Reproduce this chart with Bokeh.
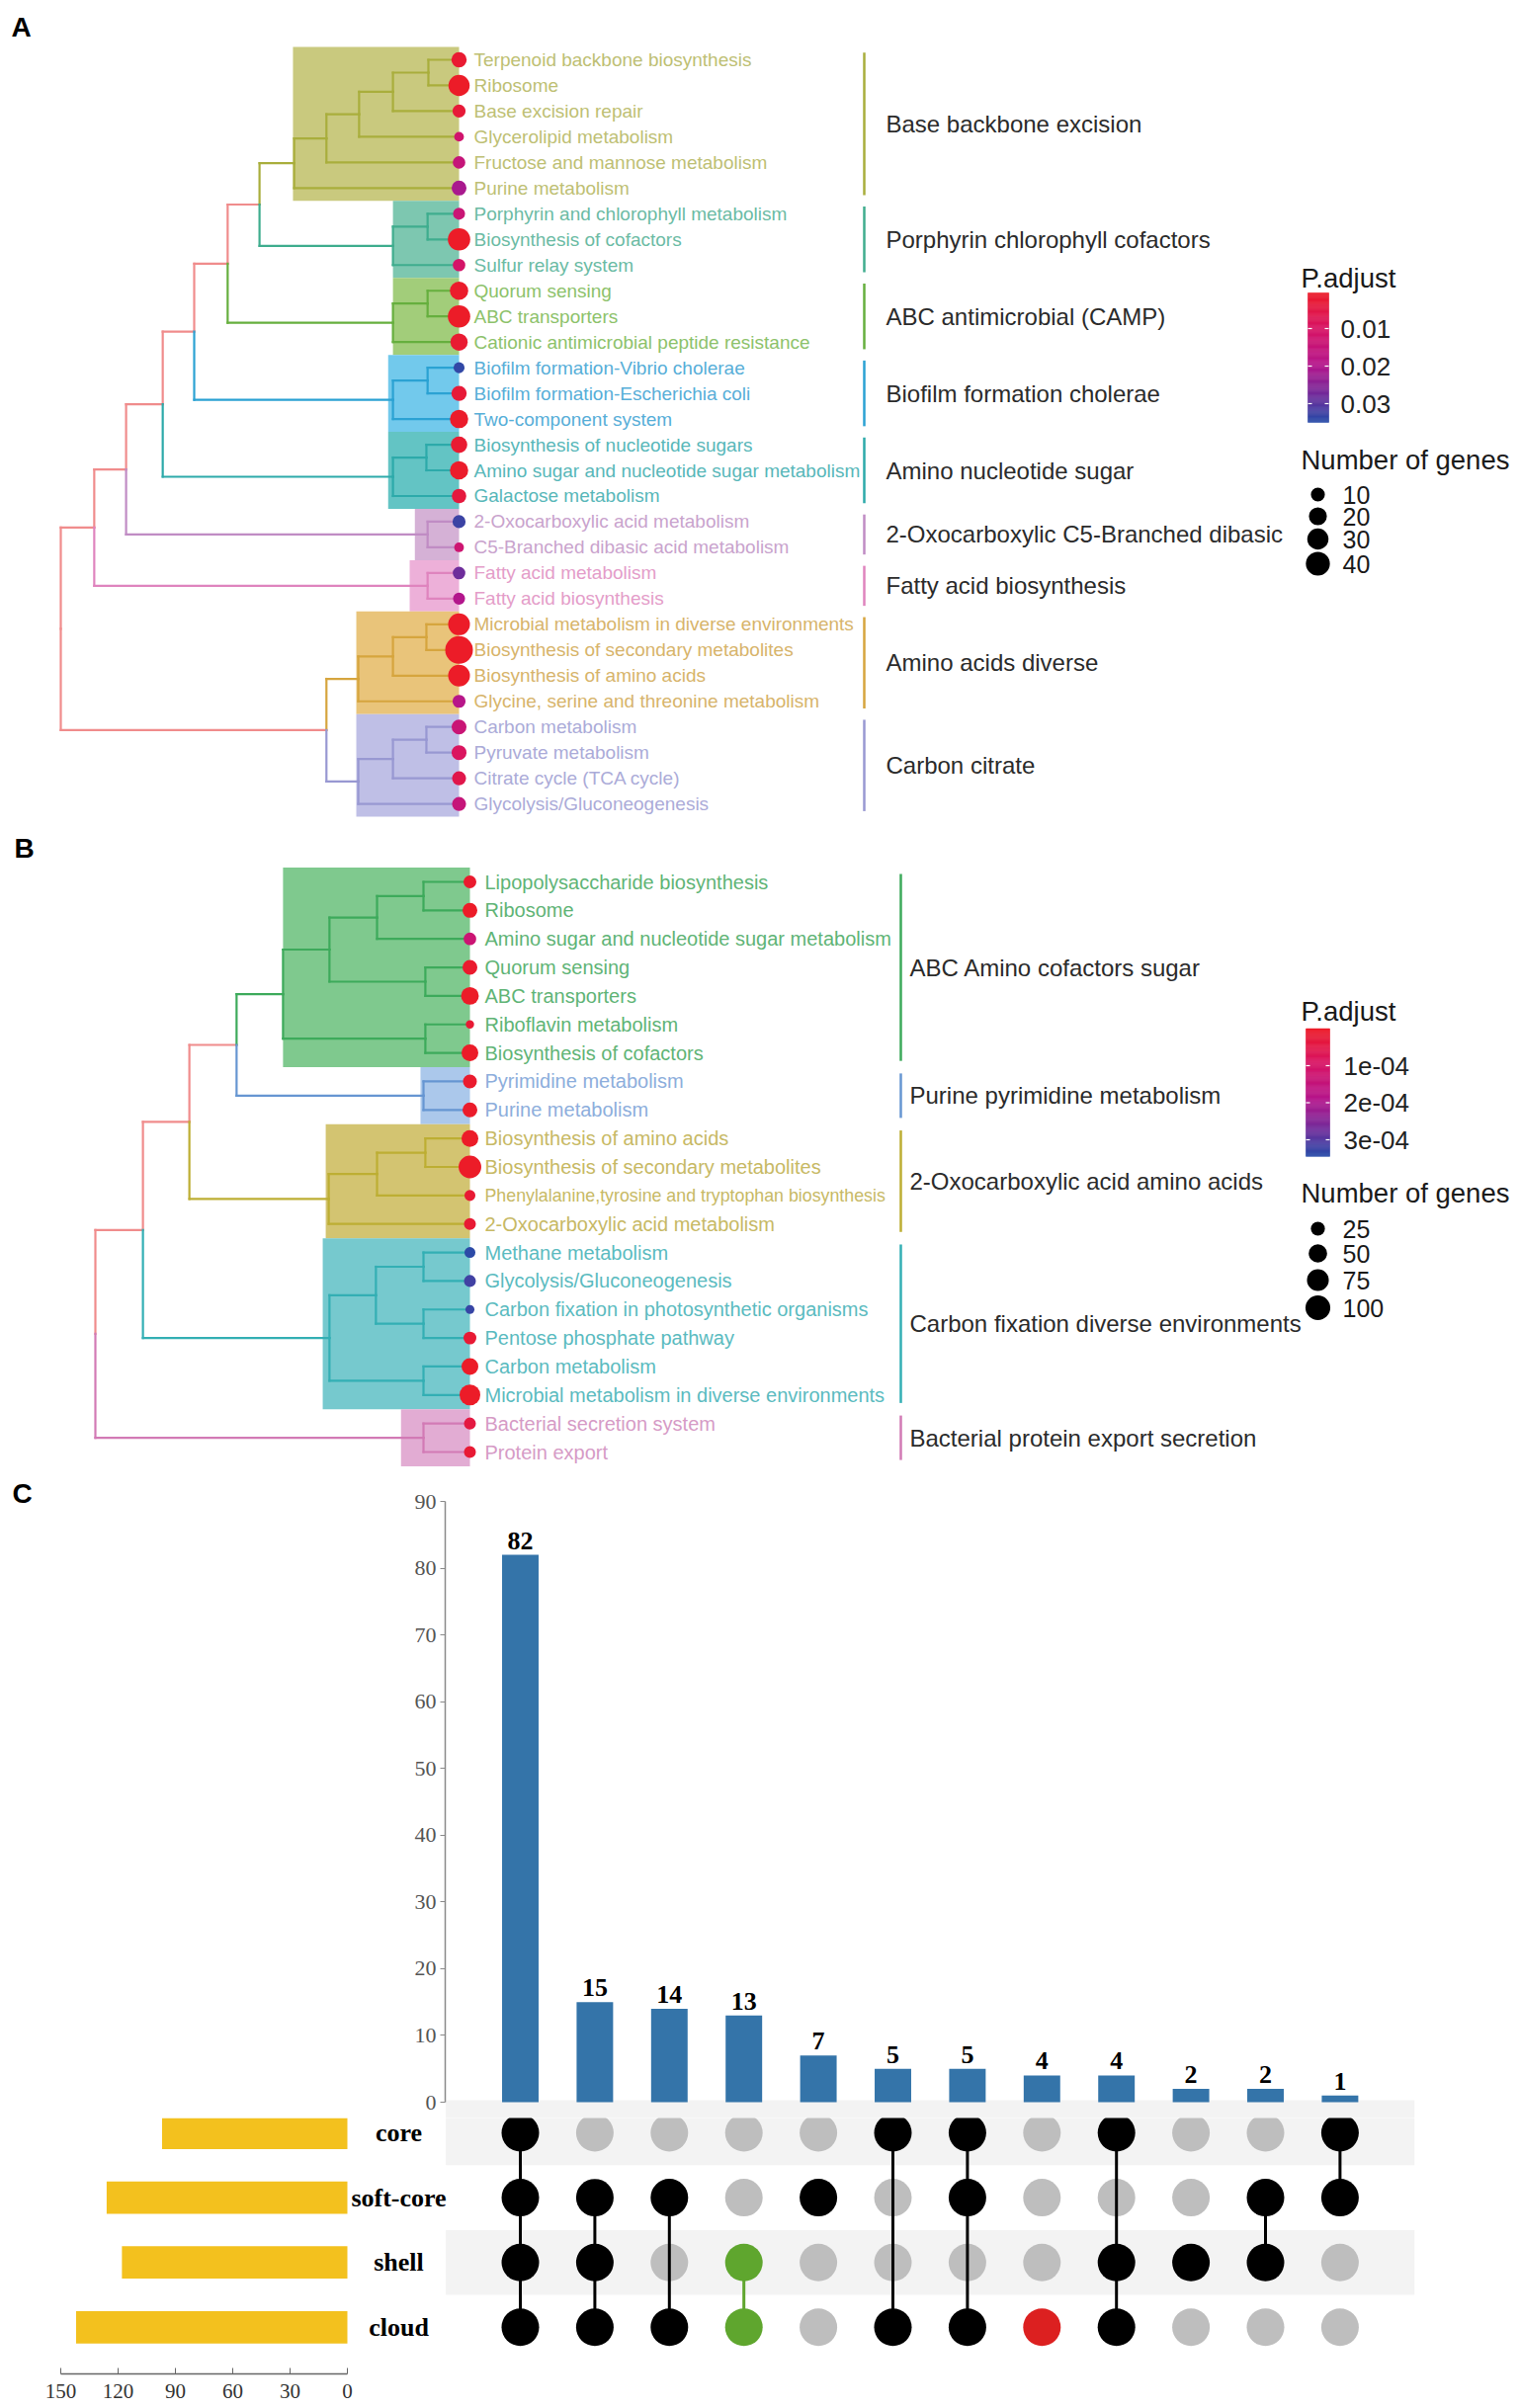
import numpy as np
from bokeh.plotting import figure
from bokeh.models import Range1d, LinearAxis, FixedTicker, ColumnDataSource
from bokeh.layouts import column, row
from bokeh.embed import file_html
from bokeh.resources import INLINE
from bokeh.core.properties import value
from bokeh.transform import linear_cmap

SANS = "Liberation Sans"
SERIF = "Liberation Serif"

# ======================= DATA: panel A =======================
A_terms = ["Terpenoid backbone biosynthesis", "Ribosome", "Base excision repair", "Glycerolipid metabolism",
           "Fructose and mannose metabolism", "Purine metabolism", "Porphyrin and chlorophyll metabolism",
           "Biosynthesis of cofactors", "Sulfur relay system", "Quorum sensing", "ABC transporters",
           "Cationic antimicrobial peptide resistance", "Biofilm formation-Vibrio cholerae",
           "Biofilm formation-Escherichia coli", "Two-component system", "Biosynthesis of nucleotide sugars",
           "Amino sugar and nucleotide sugar metabolism", "Galactose metabolism",
           "2-Oxocarboxylic acid metabolism", "C5-Branched dibasic acid metabolism", "Fatty acid metabolism",
           "Fatty acid biosynthesis", "Microbial metabolism in diverse environments",
           "Biosynthesis of secondary metabolites", "Biosynthesis of amino acids",
           "Glycine, serine and threonine metabolism", "Carbon metabolism", "Pyruvate metabolism",
           "Citrate cycle (TCA cycle)", "Glycolysis/Gluconeogenesis"]
A_padj = [0.002, 0.0005, 0.003, 0.012, 0.015, 0.021, 0.014, 0.0005, 0.011, 0.001, 0.0005, 0.002,
          0.034, 0.003, 0.001, 0.002, 0.001, 0.004, 0.033, 0.013, 0.028, 0.020, 0.0005, 0.0005,
          0.0005, 0.019, 0.014, 0.009, 0.006, 0.015]
A_count = [13, 30, 8, 2, 7, 12, 6, 34, 7, 21, 34, 18, 4, 13, 21, 16, 21, 11, 8, 2, 7, 6, 32, 55,
           32, 8, 12, 12, 10, 10]
A_cluster_names = ["Base backbone excision", "Porphyrin chlorophyll cofactors", "ABC antimicrobial (CAMP)",
                   "Biofilm formation cholerae", "Amino nucleotide sugar",
                   "2-Oxocarboxylic C5-Branched dibasic", "Fatty acid biosynthesis", "Amino acids diverse",
                   "Carbon citrate"]
A_cluster_sizes = [6, 3, 3, 3, 3, 2, 2, 4, 4]
# dendrogram: (height, left, right); ints are leaf indices
_a1 = (0.414, (0.333, (0.251, (0.166, (0.077, 0, 1), 2), 3), 4), 5)
_a2 = (0.166, (0.079, 6, 7), 8)
_a3 = (0.166, (0.079, 9, 10), 11)
_a4 = (0.166, (0.079, 12, 13), 14)
_a5 = (0.166, (0.082, 15, 16), 17)
_a6 = (0.079, 18, 19)
_a7 = (0.079, 20, 21)
_a8 = (0.253, (0.166, (0.082, 22, 23), 24), 25)
_a9 = (0.253, (0.166, (0.082, 26, 27), 28), 29)
A_tree = (1.0, (0.916, (0.836, (0.744, (0.665, (0.581, (0.501, _a1, _a2), _a3), _a4), _a5), _a6), _a7),
          (0.333, _a8, _a9))
A_padj_ticks = [0.01, 0.02, 0.03]
A_padj_tick_labels = ["0.01", "0.02", "0.03"]
A_padj_limits = [0.0005, 0.035]
A_size_breaks = [10, 20, 30, 40]

# ======================= DATA: panel B =======================
B_terms = ["Lipopolysaccharide biosynthesis", "Ribosome", "Amino sugar and nucleotide sugar metabolism",
           "Quorum sensing", "ABC transporters", "Riboflavin metabolism", "Biosynthesis of cofactors",
           "Pyrimidine metabolism", "Purine metabolism", "Biosynthesis of amino acids",
           "Biosynthesis of secondary metabolites", "Phenylalanine,tyrosine and tryptophan biosynthesis",
           "2-Oxocarboxylic acid metabolism", "Methane metabolism", "Glycolysis/Gluconeogenesis",
           "Carbon fixation in photosynthetic organisms", "Pentose phosphate pathway", "Carbon metabolism",
           "Microbial metabolism in diverse environments", "Bacterial secretion system", "Protein export"]
B_padj = [1e-5, 1e-6, 1.3e-4, 1e-5, 1e-6, 2e-5, 1e-6, 1e-5, 5e-6, 1e-6, 1e-6, 2e-5, 2e-5,
          3.4e-4, 3.2e-4, 3.3e-4, 2e-5, 1e-6, 1e-6, 4e-5, 2e-5]
B_count = [19, 29, 18, 29, 46, 2, 40, 24, 29, 40, 82, 11, 15, 11, 15, 4, 19, 40, 67, 15, 15]
B_cluster_names = ["ABC Amino cofactors sugar", "Purine pyrimidine metabolism",
                   "2-Oxocarboxylic acid amino acids", "Carbon fixation diverse environments",
                   "Bacterial protein export secretion"]
B_cluster_sizes = [7, 2, 4, 6, 2]
_b1 = (0.499, (0.375, (0.248, (0.124, 0, 1), 2), (0.119, 3, 4)), (0.119, 5, 6))
_b2 = (0.124, 7, 8)
_b3 = (0.377, (0.248, (0.119, 9, 10), 11), 12)
_b4 = (0.375, (0.251, (0.124, 13, 14), (0.124, 15, 16)), (0.124, 17, 18))
_b5 = (0.124, 19, 20)
B_tree = (1.0, (0.873, (0.749, (0.623, _b1, _b2), _b3), _b4), _b5)
B_padj_ticks = [1e-4, 2e-4, 3e-4]
B_padj_tick_labels = ["1e-04", "2e-04", "3e-04"]
B_padj_limits = [0.0, 3.45e-4]
B_size_breaks = [25, 50, 75, 100]

# ======================= DATA: panel C =======================
C_sets = ["core", "soft-core", "shell", "cloud"]
C_set_sizes = [97, 126, 118, 142]
C_counts = [82, 15, 14, 13, 7, 5, 5, 4, 4, 2, 2, 1]
C_members = [[1, 1, 1, 1], [0, 1, 1, 1], [0, 1, 0, 1], [0, 0, 1, 1], [0, 1, 0, 0], [1, 0, 0, 1],
             [1, 1, 0, 1], [0, 0, 0, 1], [1, 0, 1, 1], [0, 0, 1, 0], [0, 1, 1, 0], [1, 1, 0, 0]]
C_count_ticks = [0, 10, 20, 30, 40, 50, 60, 70, 80, 90]
C_set_ticks = [0, 30, 60, 90, 120, 150]

# ======================= STYLE =======================
A_line = ["#A9AE3C", "#3FAD8E", "#66AF3E", "#2BA2D3", "#2DAAAA", "#C08CC4", "#DF84BE", "#D6A53E", "#9898D2"]
A_box = ["#C9C97E", "#7DC7B0", "#A2CD7A", "#72C9EC", "#63C4C4", "#D5B1D6", "#EDB0D9", "#E9C47A", "#BFBFE6"]
A_text = ["#BEBF74", "#6BBBA4", "#8DC26B", "#57AED8", "#58B7B9", "#C9A3CD", "#E49DC9", "#D7B46B", "#ABABD8"]
A_ext = [0.003, 0.0, 0.0, 0.012, 0.012, 0.032, 0.045, 0.005, 0.005]
A_label_fs = ["19px"] * len(A_terms)
B_line = ["#3DAA5B", "#6696D2", "#BDAE33", "#33AFB4", "#D27AB5"]
B_box = ["#7FC98E", "#ABC8EB", "#D3C471", "#76C9CE", "#E2ACD3"]
B_text = ["#5FB476", "#8DAEDC", "#C7B965", "#5BBBC0", "#D69BC6"]
B_ext = [0.0, 0.008, 0.008, 0.018, 0.06]
B_label_fs = ["20px"] * len(B_terms)
B_label_fs[11] = "17.8px"
BACKBONE = "#F08C8C"
PAL_ANCHORS = [(0.0, "#EC1C28"), (0.27, "#D81464"), (0.56, "#B4168C"), (0.80, "#6E2D9B"), (1.0, "#284CA8")]


def hex2rgb(h):
    h = h.lstrip("#")
    return np.array([int(h[i:i + 2], 16) for i in (0, 2, 4)], float)


def make_palette(anchors, n=256):
    ts = np.array([a[0] for a in anchors])
    cs = np.array([hex2rgb(a[1]) for a in anchors])
    out = []
    for t in np.linspace(0, 1, n):
        rgb = [np.interp(t, ts, cs[:, k]) for k in range(3)]
        out.append("#%02x%02x%02x" % tuple(int(round(v)) for v in rgb))
    return out


PALETTE = make_palette(PAL_ANCHORS)


def build(node):
    if isinstance(node, int):
        return dict(h=0.0, y=float(node), leaves=[node], kids=[])
    h, a, b = node
    ka, kb = build(a), build(b)
    return dict(h=h, y=(ka["y"] + kb["y"]) / 2.0, leaves=ka["leaves"] + kb["leaves"], kids=[ka, kb])


def walk(n):
    yield n
    for k in n["kids"]:
        yield from walk(k)


class Map:
    def __init__(self, x0, sx, y0, sy):
        self.x0, self.sx, self.y0, self.sy = x0, sx, y0, sy

    def X(self, px):
        return (px - self.x0) / self.sx

    def Y(self, py):
        return (py - self.y0) / self.sy


PAGE_W = 1537


def tree_panel(cfg):
    m = cfg["map"]
    top, bottom = cfg["ref_top"], cfg["ref_bottom"]
    p = figure(width=PAGE_W, height=int(bottom - top), x_range=Range1d(m.X(0), m.X(PAGE_W)),
               y_range=Range1d(m.Y(bottom), m.Y(top)), x_axis_type=None, y_axis_type=None,
               output_backend="svg", toolbar_location=None, min_border=0)
    p.outline_line_color = None
    p.background_fill_color = "white"

    root = build(cfg["tree"])
    sizes = cfg["sizes"]
    starts = np.concatenate([[0], np.cumsum(sizes)[:-1]]).astype(int)
    leaf_cl = np.repeat(np.arange(len(sizes)), sizes)

    def grp(n):
        cs = set(int(leaf_cl[l]) for l in n["leaves"])
        return cs.pop() if len(cs) == 1 else None

    # highlight boxes
    bl, br, bt, bb, bc = [], [], [], [], []
    for g, (s, n) in enumerate(zip(starts, sizes)):
        want = list(range(s, s + n))
        croot = next(nd for nd in walk(root) if sorted(nd["leaves"]) == want)
        bl.append(-(croot["h"] + cfg["ext"][g]))
        br.append(0.0)
        bt.append(s - 0.5)
        bb.append(s + n - 1 + 0.5)
        bc.append(cfg["box"][g])
    p.quad(left=bl, right=br, top=bt, bottom=bb, fill_color=bc, line_color=None)

    # branches
    x0, y0, x1, y1, sc = [], [], [], [], []
    for nd in walk(root):
        for k in nd["kids"]:
            g = grp(k)
            col = BACKBONE if g is None else cfg["line"][g]
            x0 += [-nd["h"], -nd["h"]]
            y0 += [nd["y"], k["y"]]
            x1 += [-nd["h"], -k["h"]]
            y1 += [k["y"], k["y"]]
            sc += [col, col]
    p.segment(x0=x0, y0=y0, x1=x1, y1=y1, line_color=sc, line_width=2.2, line_cap="square")

    # leaf dots
    n_leaf = len(cfg["terms"])
    lo, hi = cfg["limits"]
    src = ColumnDataSource(dict(x=[0.0] * n_leaf, y=list(range(n_leaf)), padj=cfg["padj"],
                                size=[cfg["size_fn"](v) for v in cfg["count"]]))
    cmap = linear_cmap("padj", PALETTE, lo, hi)
    p.scatter(x="x", y="y", size="size", source=src, fill_color=cmap, line_color=None)

    # leaf labels
    tcols = [cfg["text"][int(leaf_cl[i])] for i in range(n_leaf)]
    lsrc = ColumnDataSource(dict(x=[m.X(cfg["label_px"])] * n_leaf, y=list(range(n_leaf)), t=cfg["terms"],
                                 c=tcols, fs=cfg["label_fs"]))
    p.text(x="x", y="y", text="t", text_color="c", text_font_size="fs", source=lsrc,
           text_font=value(SANS), text_baseline="middle", text_align="left")

    # cluster bars & names
    cx = m.X(cfg["bar_px"])
    p.segment(x0=[cx] * len(sizes), x1=[cx] * len(sizes), y0=[s - 0.28 for s in starts],
              y1=[s + n - 1 + 0.28 for s, n in zip(starts, sizes)], line_color=cfg["line"], line_width=2.5)
    p.text(x=[m.X(cfg["cname_px"])] * len(sizes), y=[s + (n - 1) / 2.0 for s, n in zip(starts, sizes)],
           text=cfg["cnames"], text_color="#2b2b2b", text_font=value(SANS), text_font_size="24px",
           text_baseline="middle", text_align="left")

    # legend: colour bar
    lg = cfg["legend"]

    def cby(v):
        return m.Y(lg["cb_y0"] + (v - lg["cb_v0"]) * lg["cb_ppu"])

    vals = np.linspace(lo, hi, 121)
    cbs = ColumnDataSource(dict(v=(vals[:-1] + vals[1:]) / 2, top=[cby(v) for v in vals[:-1]],
                                bottom=[cby(v) for v in vals[1:]]))
    p.quad(left=m.X(lg["cb_x0"]), right=m.X(lg["cb_x1"]), top="top", bottom="bottom", source=cbs,
           fill_color=linear_cmap("v", PALETTE, lo, hi), line_color=linear_cmap("v", PALETTE, lo, hi),
           line_width=0.5)
    tk = cfg["ticks"]
    tw = 4.0 / m.sx
    p.segment(x0=[m.X(lg["cb_x0"])] * len(tk), x1=[m.X(lg["cb_x0"]) + tw] * len(tk),
              y0=[cby(t) for t in tk], y1=[cby(t) for t in tk], line_color="white", line_width=1.2)
    p.segment(x0=[m.X(lg["cb_x1"])] * len(tk), x1=[m.X(lg["cb_x1"]) - tw] * len(tk),
              y0=[cby(t) for t in tk], y1=[cby(t) for t in tk], line_color="white", line_width=1.2)
    p.text(x=[m.X(lg["tick_x"])] * len(tk), y=[cby(t) for t in tk], text=cfg["tick_labels"],
           text_color="#222222", text_font=value(SANS), text_font_size="26px", text_baseline="middle")
    p.text(x=[m.X(lg["title_x"])] * 2, y=[m.Y(lg["title1_y"]), m.Y(lg["title2_y"])],
           text=["P.adjust", "Number of genes"], text_color="#1a1a1a", text_font=value(SANS),
           text_font_size="27.5px", text_baseline="middle")
    # legend: sizes
    br_ = cfg["breaks"]
    p.scatter(x=[m.X(lg["key_x"])] * len(br_), y=[m.Y(v) for v in lg["key_y"]],
              size=[cfg["size_fn"](b) for b in br_], fill_color="black", line_color=None)
    p.text(x=[m.X(lg["key_lab_x"])] * len(br_), y=[m.Y(v) for v in lg["key_y"]], text=[str(b) for b in br_],
           text_color="#1a1a1a", text_font=value(SANS), text_font_size="25px", text_baseline="middle")

    # panel letter
    p.text(x=[m.X(cfg["letter_xy"][0])], y=[m.Y(cfg["letter_xy"][1])], text=[cfg["letter"]],
           text_color="black", text_font=value(SANS), text_font_style="bold", text_font_size="28px",
           text_baseline="middle", text_align="left")
    return p


figA = tree_panel(dict(
    map=Map(464, 403, 60, 25.97), ref_top=0, ref_bottom=828, tree=A_tree, sizes=A_cluster_sizes,
    terms=A_terms, padj=A_padj, count=A_count, limits=A_padj_limits, ticks=A_padj_ticks,
    tick_labels=A_padj_tick_labels, breaks=A_size_breaks, cnames=A_cluster_names,
    line=A_line, box=A_box, text=A_text, ext=A_ext, size_fn=lambda v: float(np.sqrt(70 + 13 * v)),
    label_px=479, label_fs=A_label_fs, bar_px=874, cname_px=896, letter="A", letter_xy=(11, 27),
    legend=dict(title_x=1316, title1_y=281, title2_y=465, cb_x0=1323, cb_x1=1344, cb_y0=332, cb_v0=0.01,
                cb_ppu=38.0 / 0.01, tick_x=1356, key_x=1333, key_lab_x=1358, key_y=[500, 522, 545, 570])))

figB = tree_panel(dict(
    map=Map(475, 379, 892, 28.85), ref_top=828, ref_bottom=1486, tree=B_tree, sizes=B_cluster_sizes,
    terms=B_terms, padj=B_padj, count=B_count, limits=B_padj_limits, ticks=B_padj_ticks,
    tick_labels=B_padj_tick_labels, breaks=B_size_breaks, cnames=B_cluster_names,
    line=B_line, box=B_box, text=B_text, ext=B_ext, size_fn=lambda v: float(np.sqrt(60 + 5.7 * v)),
    label_px=490, label_fs=B_label_fs, bar_px=911, cname_px=920, letter="B", letter_xy=(14, 858),
    legend=dict(title_x=1316, title1_y=1023, title2_y=1207, cb_x0=1321, cb_x1=1345, cb_y0=1078, cb_v0=1e-4,
                cb_ppu=37.5 / 1e-4, tick_x=1359, key_x=1333, key_lab_x=1358, key_y=[1243, 1268, 1295, 1323])))

# ======================= PANEL C =======================
COL0, COLW = 526.0, 75.4      # column centre / spacing (px)
CNT0, CNTPX = 2127.0, 6.755   # count baseline / px per unit
ROW0, ROWPX = 2158.0, 65.6    # first matrix row / row spacing
SET0, SETPX = 351.0, 1.9333   # set-size zero / px per unit
C_TOP, C_SPLIT, C_AXIS = 1486, 2143, 2402
n_cols = len(C_counts)
cols = list(range(n_cols))
BAND = "#F3F3F3"

bar = figure(width=PAGE_W - 405, height=C_SPLIT - C_TOP,
             x_range=Range1d((450 - COL0) / COLW, (PAGE_W - COL0) / COLW),
             y_range=Range1d((CNT0 - C_SPLIT) / CNTPX, (CNT0 - 1490) / CNTPX), x_axis_type=None,
             output_backend="svg", toolbar_location=None, min_border_left=45, min_border_right=0,
             min_border_top=1490 - C_TOP, min_border_bottom=0)
bar.grid.visible = False
bar.outline_line_color = None
yax = bar.yaxis[0]
yax.ticker = FixedTicker(ticks=C_count_ticks)
yax.bounds = (0, 90)
yax.major_label_text_font = SERIF
yax.major_label_text_font_size = "22px"
yax.major_label_text_color = "#555555"
yax.axis_line_color = "#8a8a8a"
yax.axis_line_width = 1.5
yax.major_tick_line_color = "#8a8a8a"
yax.minor_tick_line_color = None
yax.major_tick_out = 5
yax.major_tick_in = 0
yax.major_label_standoff = 4
bar.quad(left=[-1.0], right=[12.0], bottom=[bar.y_range.start], top=[0.3], fill_color=BAND, line_color=None)
bar.vbar(x=cols, top=C_counts, width=0.49, fill_color="#3474A9", line_color=None)
bar.text(x=cols, y=[c + 14.5 / CNTPX for c in C_counts], text=[str(c) for c in C_counts], text_color="black",
         text_font=value(SERIF), text_font_style="bold", text_font_size="26px", text_align="center",
         text_baseline="middle")

cfig = figure(width=405, height=C_SPLIT - C_TOP, x_range=Range1d(0, 405), y_range=Range1d(C_SPLIT - C_TOP, 0),
              x_axis_type=None, y_axis_type=None, output_backend="svg", toolbar_location=None, min_border=0)
cfig.outline_line_color = None
cfig.text(x=[12], y=[1507 - C_TOP], text=["C"], text_color="black", text_font=value(SANS),
          text_font_style="bold", text_font_size="28px", text_baseline="middle", text_align="left")

lower = figure(width=PAGE_W, height=2437 - C_SPLIT, x_range=Range1d((0 - COL0) / COLW, (PAGE_W - COL0) / COLW),
               y_range=Range1d((C_AXIS - ROW0) / ROWPX, (C_SPLIT - ROW0) / ROWPX),
               extra_x_ranges={"setsize": Range1d((SET0 - 0) / SETPX, (SET0 - PAGE_W) / SETPX)},
               x_axis_type=None, y_axis_type=None, output_backend="svg", toolbar_location=None,
               min_border=0, min_border_bottom=2437 - C_AXIS)
lower.outline_line_color = None
rows_idx = list(range(len(C_sets)))
striped = [r for r in rows_idx if r % 2 == 0]
lower.quad(left=[-1.0] * len(striped), right=[12.0] * len(striped), top=[r - 0.5 for r in striped],
           bottom=[r + 0.5 for r in striped], fill_color=BAND, line_color=None)
lower.hbar(y=rows_idx, left=0, right=C_set_sizes, height=0.5, x_range_name="setsize",
           fill_color="#F3C11E", line_color=None)
sax = LinearAxis(x_range_name="setsize", ticker=FixedTicker(ticks=C_set_ticks), bounds=(0, 150))
sax.major_label_text_font = SERIF
sax.major_label_text_font_size = "21px"
sax.major_label_text_color = "#333333"
sax.axis_line_color = "#666666"
sax.axis_line_width = 1.5
sax.major_tick_line_color = "#666666"
sax.minor_tick_line_color = None
sax.major_tick_in = 6
sax.major_tick_out = 0
sax.major_label_standoff = 10
lower.add_layout(sax, "below")

dot_colors = ["black"] * n_cols
dot_colors[3] = "#5FA62E"
dot_colors[7] = "#DC2020"
gx, gy, ax_, ay, ac = [], [], [], [], []
lx0, ly0, ly1, lc = [], [], [], []
for c, mem in enumerate(C_members):
    act = [r for r in rows_idx if mem[r]]
    for r in rows_idx:
        if mem[r]:
            ax_.append(c); ay.append(r); ac.append(dot_colors[c])
        else:
            gx.append(c); gy.append(r)
    if len(act) > 1:
        lx0.append(c); ly0.append(min(act)); ly1.append(max(act)); lc.append(dot_colors[c])
lower.scatter(x=gx, y=gy, size=38, fill_color="#BEBEBE", line_color=None)
lower.segment(x0=lx0, x1=lx0, y0=ly0, y1=ly1, line_color=lc, line_width=3)
lower.scatter(x=ax_, y=ay, size=38, fill_color=ac, line_color=None)
lower.text(x=[(403 - COL0) / COLW] * len(C_sets), y=rows_idx, text=C_sets, text_color="black",
           text_font=value(SERIF), text_font_style="bold", text_font_size="26px", text_align="center",
           text_baseline="middle")

layout = column(figA, figB, row(cfig, bar), lower)
open("out.html", "w").write(file_html(layout, INLINE))
